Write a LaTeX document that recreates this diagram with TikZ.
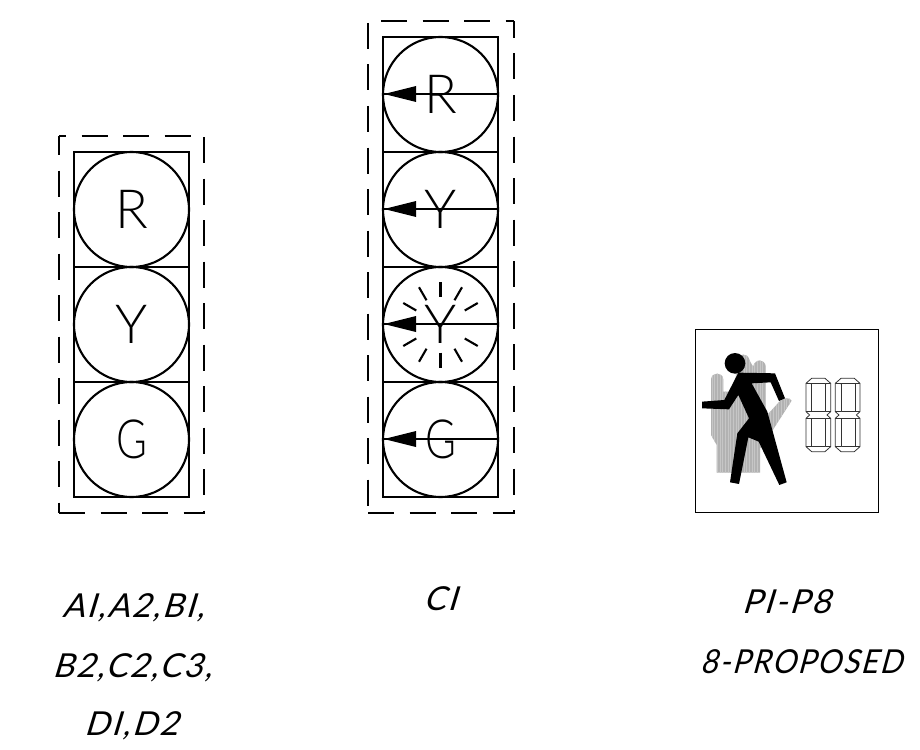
\documentclass[tikz,border=0pt]{standalone}
\usepackage{fontspec}
\usetikzlibrary{calc}
\setmainfont{Lato}[UprightFont=* Light,BoldFont=* Light,AutoFakeSlant=0.22]
\newfontfamily\labelfont{Lato}[UprightFont=* Regular,AutoFakeSlant=0.3,LetterSpace=6]
\tikzset{
 x=1pt,y=-1pt,
 main/.style={line width=2.1pt,black},
 dashbox/.style={line width=2.1pt,dash pattern=on 26pt off 15.5pt},
 sig/.style={inner sep=0pt,font=\fontsize{54}{54}\selectfont},
 captext/.style={inner sep=0pt,anchor=base,font=\labelfont\itshape\fontsize{33}{33}\selectfont},
 seg/.style={line width=0.8pt,black!80,line join=round},
}
\begin{document}
\begin{tikzpicture}
\useasboundingbox (0,0) rectangle (920,749);
\fill[white] (0,0) rectangle (920,749);
% left head
\draw[dashbox,dash phase=19pt] (59,136) -- (204,136);
\draw[dashbox] (204,137) -- (204,513);
\draw[dashbox,dash phase=7pt] (59,136) -- (59,513);
\draw[dashbox] (59,513) -- (205,513);
\draw[main] (74,152) rectangle (189,497);
\draw[main] (74,267) -- (189,267) (74,382) -- (189,382);
\foreach \n/\y/\t/\s in {a/209.5/R/1,b/324.5/Y/1,c/439.5/G/.78}{
  \node[main,draw,circle,minimum size=115pt,inner sep=0pt] at (131.5,\y) {};
  \node[sig,xscale=\s,transform shape] (l\n) at (131.5,\y) {\t};
}
% middle head
\draw[dashbox] (381,21) -- (514,21);
\draw[dashbox,dash phase=9pt] (514,21) -- (514,513);
\draw[dashbox] (368,23) -- (368,513);
\draw[dashbox] (368,513) -- (515,513);
\draw[main] (383,37) rectangle (498,497);
\draw[main] (383,152) -- (498,152) (383,267) -- (498,267) (383,382) -- (498,382);
\foreach \n/\y/\t/\s in {a/94.5/R/1,b/209.5/Y/1,d/324.5/Y/1,c/439.5/G/.78}{
  \node[main,draw,circle,minimum size=115pt,inner sep=0pt] (mc\n) at (440.5,\y) {};
  \node[sig,xscale=\s,transform shape] at (440.5,\y) {\t};
  \draw[main] (383,\y-0.5) -- (498,\y-0.5);
  \fill (384,\y-0.5) -- (416,\y-8.5) -- (416,\y+7.5) -- cycle;
}
\foreach \a in {30,60,90,120,150,210,240,270,300,330}
  \draw[main] ($(440.5,324.5)+(\a:28)$) -- ($(440.5,324.5)+(\a:43)$);
% pedestrian signal
\draw[line width=0.8pt] (695,329) rectangle (878,512);
\begin{scope}[shift={(680,320)},x=0.3333pt,y=-0.3333pt]
  \def\handpath{(110,458) -- (110,375) -- (93,345) -- (93,178) .. controls (95,155) and (128,155) .. (130,178) -- (130,215) -- (165,215) -- (170,120) .. controls (175,98) and (205,98) .. (208,120) -- (219,140) .. controls (225,115) and (255,115) .. (257,140) -- (257,290) -- (300,243) .. controls (312,232) and (330,232) .. (335,242) -- (272,340) -- (240,385) -- (240,458) -- cycle}
  \fill[gray!60] \handpath;
  \begin{scope}
    \clip \handpath;
    \foreach \x in {96,104,...,340} \draw[gray!45,line width=0.8pt] (\x,90) -- (\x,460);
  \end{scope}
  \fill[black] (165,130) circle[radius=31];
  \fill[black] (175,158) -- (285,160) -- (315,235) -- (297,243) -- (272,187) -- (215,190) -- (262,275) -- (320,487) -- (298,495) -- (236,365) -- (205,352) -- (177,492) -- (150,487) -- (172,340) -- (207,295) -- (175,225) -- (147,268) -- (66,265) -- (66,245) -- (133,240) -- cycle;
  \foreach \dx in {0,88}{
   \begin{scope}[xshift=\dx*0.3333pt]
    \draw[seg] (395,175) -- (435,175) -- (452,190) -- (452,275) -- (441,285) -- (452,295) -- (452,380) -- (435,395) -- (395,395) -- (378,380) -- (378,295) -- (389,285) -- (378,275) -- (378,190) -- cycle;
    \draw[seg] (395,191) rectangle (437,275);
    \draw[seg] (395,295) rectangle (437,380);
    \draw[seg] (378,190) -- (395,191) (452,190) -- (437,191);
    \draw[seg] (378,380) -- (395,380) (452,380) -- (437,380);
    \draw[seg] (378,275) -- (395,275) (378,295) -- (395,295) (452,275) -- (437,275) (452,295) -- (437,295);
   \end{scope}
  }
\end{scope}
% captions
\node[captext] (t1) at (133,617) {AI,A2,BI,};
\node[captext] (t2) at (132,677) {B2,C2,C3,};
\node[captext] (t3) at (131,735) {DI,D2};
\node[captext] (t4) at (440,610) {CI};
\node[captext] (t5) at (786,613) {PI-P8};
\node[captext,xscale=.9,transform shape] (t6) at (801,673) {8-PROPOSED};
\end{tikzpicture}
\end{document}
